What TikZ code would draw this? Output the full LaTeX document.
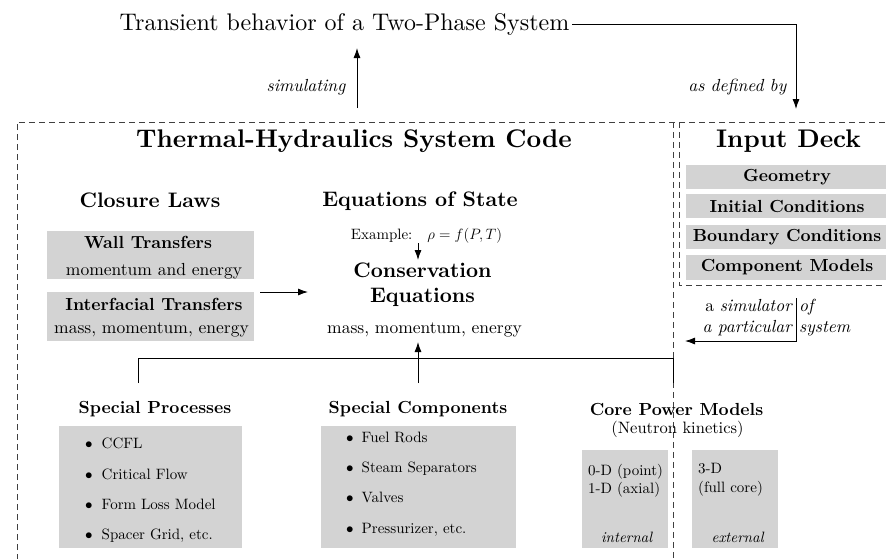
\RequirePackage{fix-cm}
\documentclass[tikz,border=0pt]{standalone}
\usepackage{fontspec}
\setmainfont{lmroman10-regular.otf}[BoldFont=lmroman10-bold.otf, ItalicFont=lmroman10-italic.otf, BoldItalicFont=lmroman10-bolditalic.otf]
\usetikzlibrary{arrows.meta}
\definecolor{boxgray}{RGB}{211,211,211}
\begin{document}
\begin{tikzpicture}[x=1pt,y=-1pt,
  >={Latex[length=10pt,width=7pt]},
  conn/.style={line width=0.9pt},
  dashbox/.style={line width=0.8pt, dash pattern=on 6pt off 4pt, draw=black!75},
  body/.style={font=\fontsize{17.5}{18}\selectfont, inner sep=0pt},
  bodyb/.style={font=\bfseries\fontsize{17.5}{18}\selectfont, inner sep=0pt},
  smalltxt/.style={font=\fontsize{15}{18}\selectfont, inner sep=0pt},
  hdr/.style={font=\bfseries\fontsize{21}{25}\selectfont, inner sep=0pt},
  bighdr/.style={font=\bfseries\fontsize{25.5}{30}\selectfont, inner sep=0pt},
  grayfill/.style={fill=boxgray, inner sep=0pt},
]
\useasboundingbox (0,0) rectangle (886,558);

% top
\node[font=\fontsize{24}{28}\selectfont, inner sep=0pt, anchor=base] (title) at (344.5,30) {Transient behavior of a Two-Phase System};
\coordinate (defend) at (796,109);
\draw[conn,->,shorten <=3pt] (title.east) -| (defend);
\coordinate (simfoot) at (357,108);
\coordinate (simtip) at (357,48);
\draw[conn,->] (simfoot) -- (simtip);
\node[body, anchor=base east] (simlbl) at (346,91) {\textit{simulating}};
\node[body, anchor=base east] (deflbl) at (787,91) {\textit{as defined by}};

% dashed frames
\draw[dashbox] (17,560) -- (17,122) -- (886,122);
\draw[dashbox] (673,122) -- (673,560);
\draw[dashbox] (679,122) -- (679,285) -- (886,285);

% headers
\node[bighdr, anchor=base] (thsc) at (354,147) {Thermal-Hydraulics System Code};
\node[bighdr, anchor=base] (deck) at (788.5,147) {Input Deck};

% input deck items
\node[grayfill, bodyb, minimum width=202pt, minimum height=24pt] (geo) at (787,177) {Geometry};
\node[grayfill, bodyb, minimum width=202pt, minimum height=24pt] (init) at (787,206) {Initial Conditions};
\node[grayfill, bodyb, minimum width=202pt, minimum height=24pt] (bound) at (787,237) {Boundary Conditions};
\node[grayfill, bodyb, minimum width=202pt, minimum height=25pt] (comp) at (787,267.5) {Component Models};

% simulator note
\node[body, anchor=base east] (sim1) at (793,311) {a \textit{simulator}};
\node[body, anchor=base east] (sim2) at (793,332) {\textit{a particular}};
\node[body, anchor=base west] (sim3) at (799,311) {\textit{of}};
\node[body, anchor=base west] (sim4) at (799,332) {\textit{system}};
\coordinate (simtop) at (796,298);
\coordinate (simarr) at (685,341);
\draw[conn,->] (simtop) |- (simarr);

% closure laws
\node[hdr, anchor=base] (closure) at (150,207) {Closure Laws};
\node[grayfill, minimum width=207pt, minimum height=48pt] (wall) at (150.5,255) {};
\node[bodyb, anchor=base] (wall1) at (148,248) {Wall Transfers};
\node[body, anchor=base] (wall2) at (154,275) {momentum and energy};
\node[grayfill, minimum width=207pt, minimum height=49pt] (interf) at (150.5,316.5) {};
\node[bodyb, anchor=base] (interf1) at (154,310) {Interfacial Transfers};
\node[body, anchor=base] (interf2) at (151.5,333) {mass, momentum, energy};
\coordinate (clout) at (260,292);
\coordinate (clin) at (308,292);
\draw[conn,->] (clout) -- (clin);

% equations
\node[hdr, anchor=base] (eos) at (420,206) {Equations of State};
\node[smalltxt, anchor=base] (example) at (426.5,239) {Example:\quad $\rho = f(P,T)$};
\coordinate (exfoot) at (418,243);
\coordinate (constop) at (418,260);
\draw[conn,->] (exfoot) -- (constop);
\node[hdr, align=center] (cons) at (422.5,285) {Conservation\\Equations};
\node[body, anchor=base] (consmass) at (424.5,333) {mass, momentum, energy};

% bottom connectors
\coordinate (sptop) at (138,383);
\coordinate (spbar) at (138,358);
\coordinate (cpbar) at (673,358);
\coordinate (cptop) at (673,383);
\coordinate (sctop) at (418,383);
\coordinate (consfoot) at (418,342);
\draw[conn] (sptop) -- (spbar) -- (cpbar) -- (cptop);
\draw[conn,->] (sctop) -- (consfoot);

% special processes
\node[bodyb, anchor=base] (sphdr) at (155,413) {Special Processes};
\node[grayfill, minimum width=183pt, minimum height=122pt] (spbox) at (150.5,487) {};
\node[smalltxt, anchor=base west] (sp1) at (85,448) {$\bullet$\hspace{9pt}CCFL};
\node[smalltxt, anchor=base west] (sp2) at (85,479) {$\bullet$\hspace{9pt}Critical Flow};
\node[smalltxt, anchor=base west] (sp3) at (85,509) {$\bullet$\hspace{9pt}Form Loss Model};
\node[smalltxt, anchor=base west] (sp4) at (85,539) {$\bullet$\hspace{9pt}Spacer Grid, etc.};

% special components
\node[bodyb, anchor=base] (schdr) at (418,413) {Special Components};
\node[grayfill, minimum width=195pt, minimum height=122pt] (scbox) at (418.5,487) {};
\node[smalltxt, anchor=base west] (sc1) at (346,442) {$\bullet$\hspace{8pt}Fuel Rods};
\node[smalltxt, anchor=base west] (sc2) at (346,472) {$\bullet$\hspace{8pt}Steam Separators};
\node[smalltxt, anchor=base west] (sc3) at (346,502) {$\bullet$\hspace{8pt}Valves};
\node[smalltxt, anchor=base west] (sc4) at (346,533) {$\bullet$\hspace{8pt}Pressurizer, etc.};

% core power models
\node[bodyb, anchor=base] (cphdr) at (676.5,415) {Core Power Models};
\node[font=\fontsize{16.5}{18}\selectfont, inner sep=0pt, anchor=base] (cpsub) at (677.5,433) {(Neutron kinetics)};
\node[grayfill, minimum width=86pt, minimum height=98pt] (intbox) at (625,499) {};
\node[grayfill, minimum width=86pt, minimum height=98pt] (extbox) at (735,499) {};
\node[smalltxt, anchor=base west] (int1) at (588,475) {0-D (point)};
\node[smalltxt, anchor=base west] (int2) at (588,493) {1-D (axial)};
\node[smalltxt, anchor=base] (int3) at (627,542) {\textit{internal}};
\node[smalltxt, anchor=base west] (ext1) at (698,473) {3-D};
\node[smalltxt, anchor=base west] (ext2) at (698,492) {(full core)};
\node[smalltxt, anchor=base] (ext3) at (738,542) {\textit{external}};
\end{tikzpicture}
\end{document}
